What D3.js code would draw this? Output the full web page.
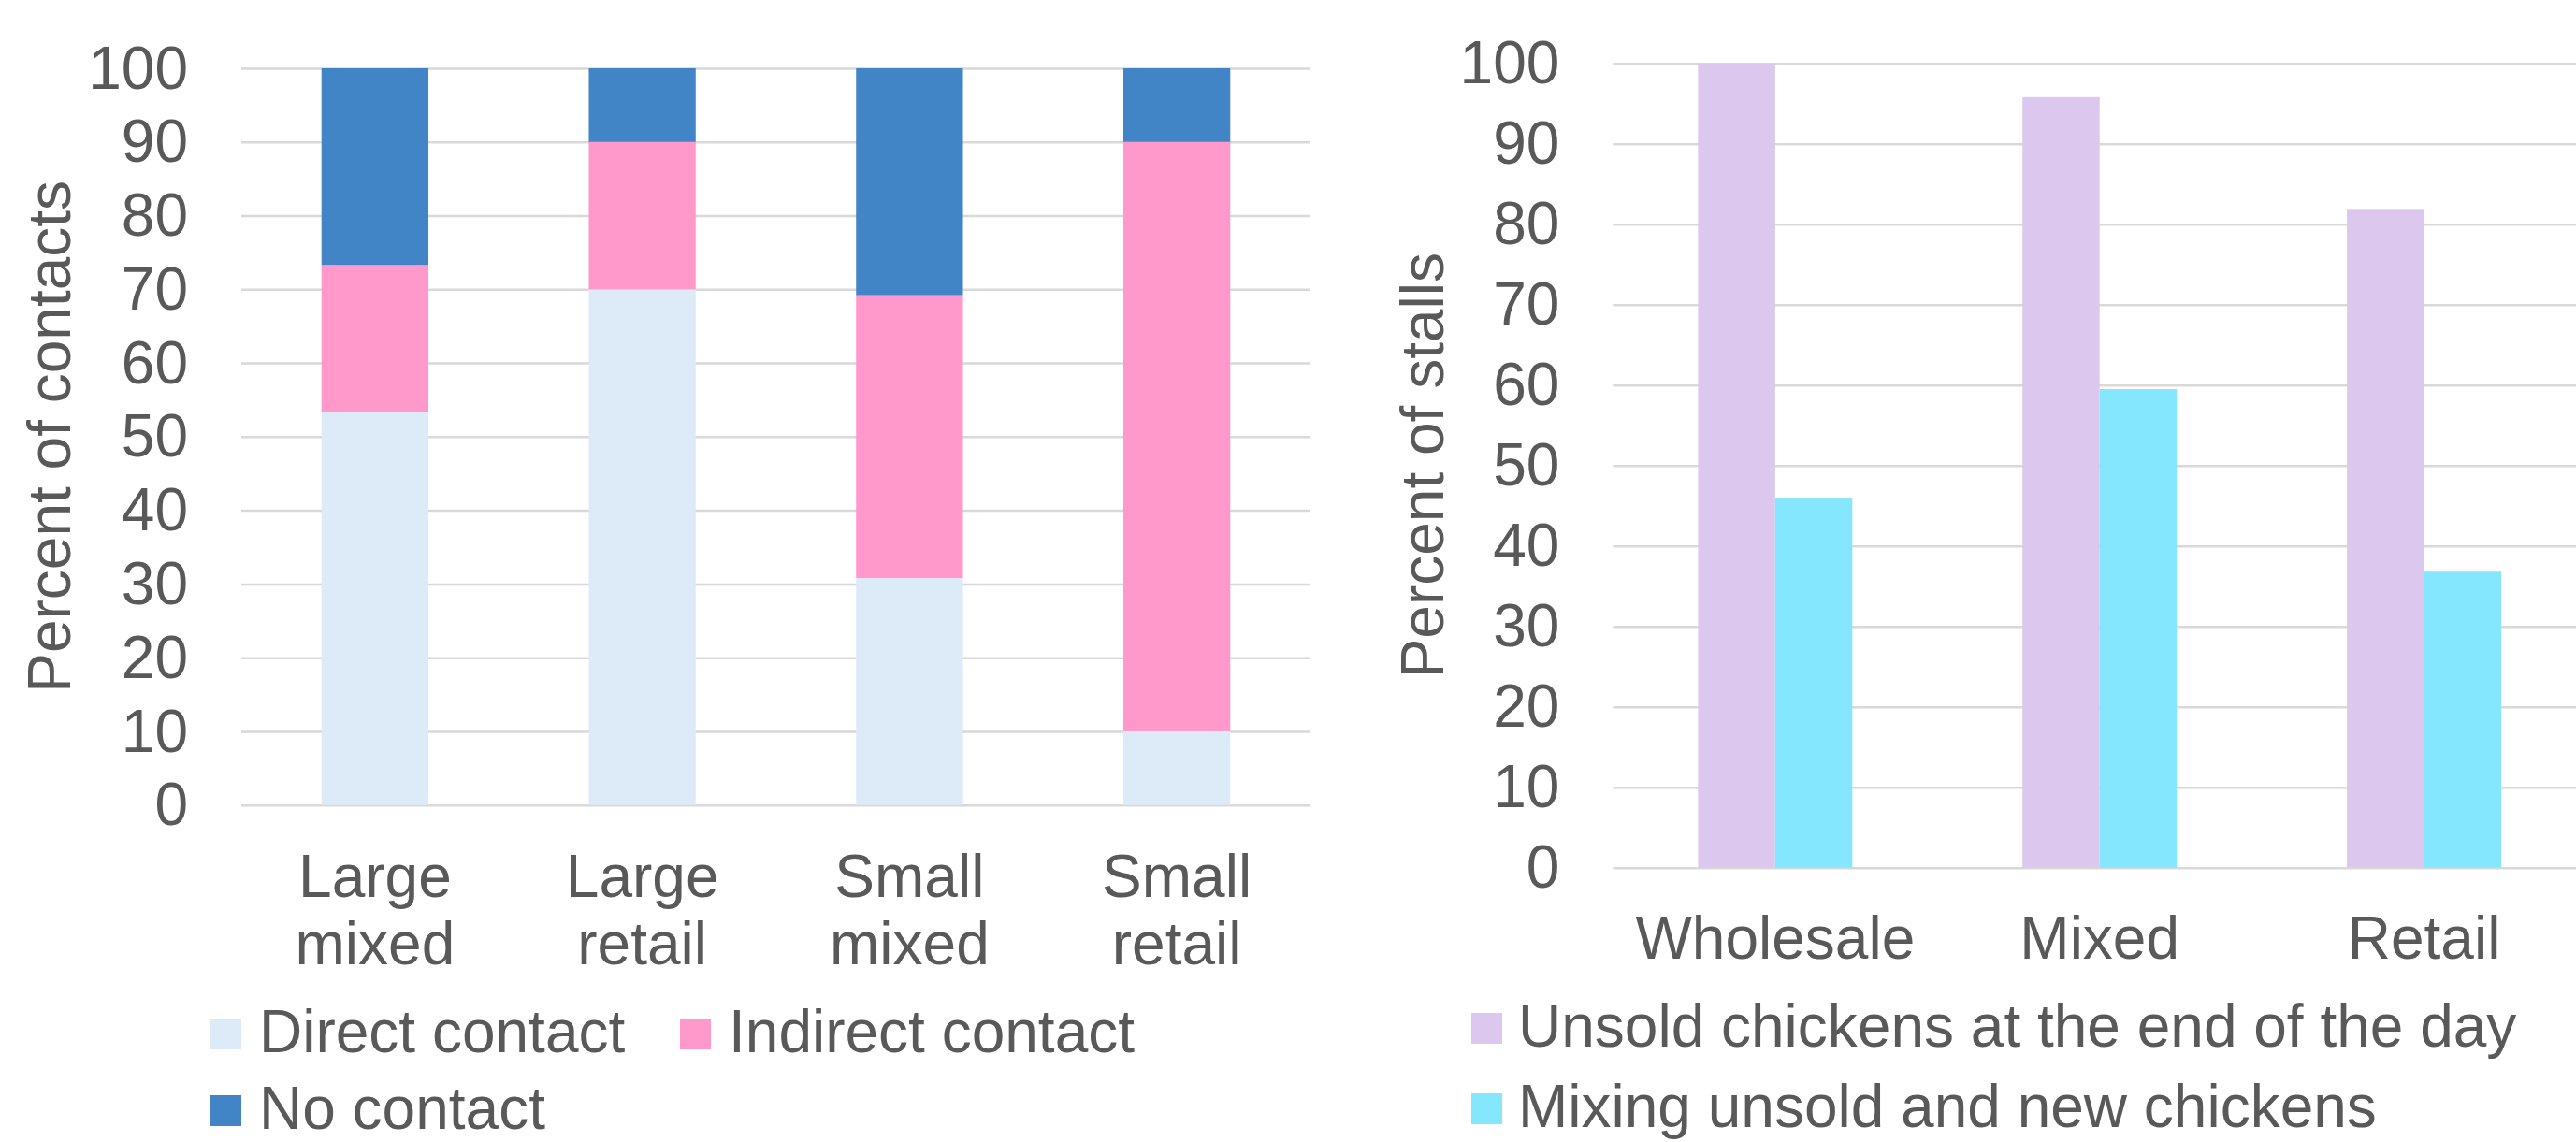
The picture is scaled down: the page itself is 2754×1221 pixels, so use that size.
<!DOCTYPE html>
<html>
<head>
<meta charset="utf-8">
<script src="https://cdn.jsdelivr.net/npm/d3@7"></script>
<style>
  html, body { margin: 0; padding: 0; background: #ffffff; overflow: hidden; }
  svg { display: block; font-family: "Liberation Sans", Arial, sans-serif; }
</style>
</head>
<body>
<svg id="chart" width="2754" height="1221"></svg>
<script>
// ---- Contacts by market type (stacked, percent) ----
const contactCategories = [["Large", "mixed"], ["Large", "retail"], ["Small", "mixed"], ["Small", "retail"]];
const contactKeys = ["Direct contact", "Indirect contact", "No contact"];
const directContact   = [53.3, 70, 30.8, 10];
const indirectContact = [20.0, 20, 38.4, 80];
const noContact       = [26.7, 10, 30.8, 10];

// ---- Stall practices by market type (grouped, percent) ----
const stallCategories = ["Wholesale", "Mixed", "Retail"];
const stallKeys = ["Unsold chickens at the end of the day", "Mixing unsold and new chickens"];
const unsoldChickens = [100, 95.8, 81.9];
const mixingChickens = [46.0, 59.5, 36.8];

const yTicks = [0, 10, 20, 30, 40, 50, 60, 70, 80, 90, 100];

const contactColors = ["#ddebf9", "#ff99cc", "#4185c6"];
const stallColors = ["#dcc8ee", "#85e7fe"];
const textColor = "#595959";
const gridColor = "#d9d9d9";
const fontSize = 64;

const svg = d3.select("#chart");

function gridAxis(g, y, left, right) {
  g.attr("transform", `translate(${left},0)`)
    .call(d3.axisLeft(y).tickValues(yTicks).tickSizeInner(-(right - left)).tickSizeOuter(0).tickPadding(57))
    .call(s => s.select(".domain").remove())
    .call(s => s.selectAll(".tick line").attr("stroke", gridColor).attr("stroke-width", 2.5))
    .call(s => s.selectAll(".tick text")
      .attr("fill", textColor)
      .attr("font-size", fontSize)
      .attr("font-family", "'Liberation Sans', Arial, sans-serif")
      .attr("dy", "0.33em"));
}

// ================= Left chart =================
{
  const left = 258, right = 1401, top = 73, bottom = 860.7;
  const x = d3.scaleBand().domain(d3.range(contactCategories.length)).range([left, right])
    .paddingInner(0.6).paddingOuter(0.3);
  const y = d3.scaleLinear().domain([0, 100]).range([bottom, top]);

  svg.append("g").call(gridAxis, y, left, right);

  const rows = contactCategories.map((c, i) => ({
    idx: i,
    "Direct contact": directContact[i],
    "Indirect contact": indirectContact[i],
    "No contact": noContact[i]
  }));
  const stacked = d3.stack().keys(contactKeys)(rows);

  svg.append("g").selectAll("g").data(stacked).join("g")
    .attr("fill", (d, i) => contactColors[i])
    .selectAll("rect").data(d => d).join("rect")
    .attr("x", d => x(d.data.idx))
    .attr("width", x.bandwidth())
    .attr("y", d => y(d[1]))
    .attr("height", d => y(d[0]) - y(d[1]));

  // category labels (two lines)
  const lab = svg.append("g").attr("fill", textColor).attr("font-size", fontSize).attr("text-anchor", "middle");
  contactCategories.forEach((lines, i) => {
    const t = lab.append("text").attr("x", x(i) + x.bandwidth() / 2).attr("y", 959);
    lines.forEach((ln, j) => t.append("tspan").attr("x", x(i) + x.bandwidth() / 2).attr("dy", j === 0 ? 0 : 72).text(ln));
  });

  // axis title
  svg.append("text")
    .attr("transform", `translate(75,${(top + bottom) / 2}) rotate(-90)`)
    .attr("text-anchor", "middle")
    .attr("fill", textColor).attr("font-size", fontSize)
    .text("Percent of contacts");

  // legend
  const legendPos = [[225, 1125], [727, 1125], [225, 1207]];
  const lg = svg.append("g");
  contactKeys.forEach((k, i) => {
    const [lx, ly] = legendPos[i];
    lg.append("rect").attr("x", lx).attr("y", ly - 36).attr("width", 33).attr("height", 33).attr("fill", contactColors[i]);
    lg.append("text").attr("x", lx + 52).attr("y", ly).attr("fill", textColor).attr("font-size", fontSize).text(k);
  });
}

// ================= Right chart =================
{
  const left = 1724.4, right = 2765, top = 67.7, bottom = 927.7;
  const x0 = d3.scaleBand().domain(stallCategories).range([left, right])
    .paddingInner(0.5245).paddingOuter(0.26225);
  const x1 = d3.scaleBand().domain(stallKeys).range([0, x0.bandwidth()]);
  const y = d3.scaleLinear().domain([0, 100]).range([bottom, top]);

  svg.append("g").call(gridAxis, y, left, right);

  const series = [unsoldChickens, mixingChickens];
  const bars = [];
  stallCategories.forEach((c, i) => stallKeys.forEach((k, j) => bars.push({ c, k, j, v: series[j][i] })));

  svg.append("g").selectAll("rect").data(bars).join("rect")
    .attr("x", d => x0(d.c) + x1(d.k))
    .attr("width", x1.bandwidth())
    .attr("y", d => y(d.v))
    .attr("height", d => y(0) - y(d.v))
    .attr("fill", d => stallColors[d.j]);

  svg.append("g").selectAll("text").data(stallCategories).join("text")
    .attr("x", d => x0(d) + x0.bandwidth() / 2)
    .attr("y", 1025)
    .attr("text-anchor", "middle")
    .attr("fill", textColor).attr("font-size", fontSize)
    .text(d => d);

  svg.append("text")
    .attr("transform", `translate(1543,${(top + bottom) / 2}) rotate(-90)`)
    .attr("text-anchor", "middle")
    .attr("fill", textColor).attr("font-size", fontSize)
    .text("Percent of stalls");

  const lg = svg.append("g");
  stallKeys.forEach((k, i) => {
    const ly = i === 0 ? 1119 : 1205;
    lg.append("rect").attr("x", 1573).attr("y", ly - 36).attr("width", 33).attr("height", 33).attr("fill", stallColors[i]);
    lg.append("text").attr("x", 1623).attr("y", ly).attr("fill", textColor).attr("font-size", fontSize).text(k);
  });
}
</script>
</body>
</html>
